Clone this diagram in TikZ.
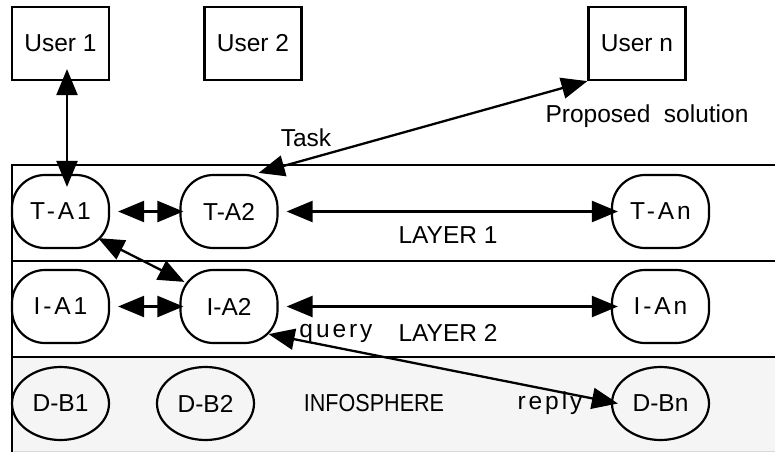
\documentclass[tikz,border=0pt]{standalone}
\usepackage{fontspec}
\setmainfont{Liberation Sans}
\newfontfamily\spacedfont[LetterSpace=12]{Liberation Sans}
\usetikzlibrary{arrows.meta,shapes.geometric}
\begin{document}
\begin{tikzpicture}[x=1pt,y=-1pt,
  every node/.style={font=\fontsize{24.5}{29}\selectfont},
  userbox/.style={draw, line width=2.2pt, minimum width=97pt, minimum height=73pt, inner sep=0pt},
  agent/.style={draw, line width=2.2pt, rounded corners=33pt, minimum width=97pt, minimum height=73pt, inner sep=0pt},
  dbnode/.style={draw, ellipse, line width=2.2pt, minimum width=97pt, minimum height=73pt, inner sep=0pt},
  link/.style={line width=2.3pt, {Triangle[length=26pt,width=21pt]}-{Triangle[length=26pt,width=21pt]}},
  lbl/.style={inner sep=0pt},
  layerline/.style={line width=2.2pt}
]
\useasboundingbox (0,0) rectangle (775,452);
% layers
\fill[black!4] (12,357) rectangle (775,451);
\draw[black!15, line width=1pt] (12,451) -- (775,451);
\draw[layerline] (775,165) -- (12,165) -- (12,452);
\draw[layerline] (12,261) -- (775,261);
\draw[layerline] (12,357) -- (775,357);
% users
\node[userbox] (u1) at (60.5,43.5) {User 1};
\node[userbox] (u2) at (253,43.5) {User 2};
\node[userbox] (un) at (637,43.5) {User n};
% layer 1
\node[agent] (ta1) at (60.5,211.5) {\spacedfont T-A1};
\node[agent] (ta2) at (229,211.5) {T-A2};
\node[agent] (tan) at (660.5,211.5) {\spacedfont T-An};
% layer 2
\node[agent] (ia1) at (60.5,306.5) {\spacedfont I-A1};
\node[agent] (ia2) at (229,306.5) {I-A2};
\node[agent] (ian) at (660.5,306.5) {\spacedfont I-An};
% infosphere
\node[dbnode] (db1) at (60.5,403.5) {D-B1};
\node[dbnode] (db2) at (205.5,403.5) {D-B2};
\node[dbnode] (dbn) at (660.5,403.5) {D-Bn};
% labels
\node[lbl] (task) at (306,138) {Task};
\node[lbl] (prop) at (647,116) {Proposed\ \ solution};
\node[lbl] (lay1) at (448,235) {LAYER 1};
\node[lbl] (lay2) at (448,333) {LAYER 2};
\node[lbl] (query) at (336,333) {\spacedfont query};
\node[lbl, xscale=0.88] (info) at (374,403) {INFOSPHERE};
\node[lbl] (reply) at (550,403) {\spacedfont reply};
% connectors
\draw[link] ([shift={(6.5,-12)}]u1.south) -- ([shift={(6.5,13)}]ta1.north);
\draw[link] ([shift={(-20,-1)}]ta2.north east) -- (un.south west);
\draw[link] ([xshift=8pt]ta1.east) -- ([xshift=4pt]ta2.west);
\draw[link] ([xshift=8pt]ta2.east) -- ([xshift=7pt]tan.west);
\draw[link] ([shift={(-12,-11)}]ta1.south east) -- ([shift={(5,13)}]ia2.north west);
\draw[link] ([xshift=8pt]ia1.east) -- ([xshift=4pt]ia2.west);
\draw[link] ([xshift=8pt]ia2.east) -- ([xshift=7pt]ian.west);
\draw[link] ([shift={(-10,-10)}]ia2.south east) -- ([xshift=7pt]dbn.west);
\end{tikzpicture}
\end{document}
